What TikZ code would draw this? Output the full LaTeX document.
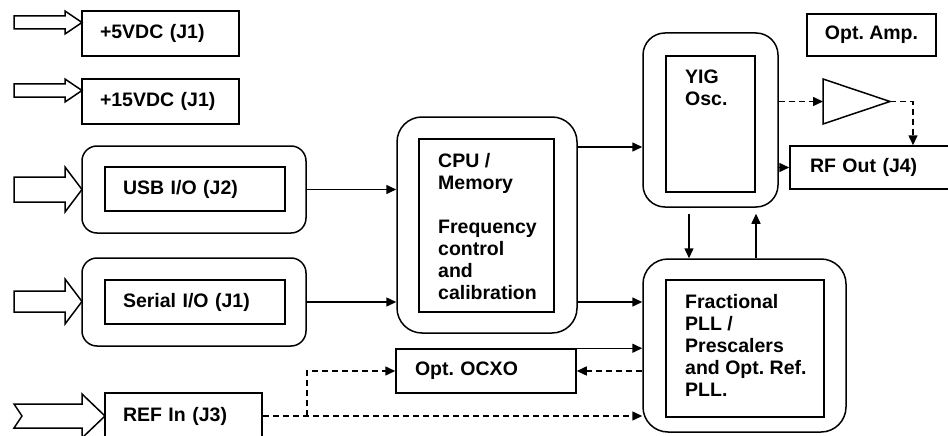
\documentclass[tikz,border=0pt]{standalone}
\usepackage{fontspec}
\setmainfont{Liberation Sans}
\usetikzlibrary{arrows.meta}
\begin{document}
\begin{tikzpicture}[x=1pt,y=-1pt,
  font=\fontsize{19.5}{22}\selectfont\bfseries\frenchspacing,
  lw/.style={line width=1.5pt},
  sbox/.style={draw, lw, rectangle, inner ysep=0pt, align=left},
  rbox/.style={draw, lw, rectangle, rounded corners=#1},
  arr/.style={lw, -{Triangle[length=10pt,width=9pt]}},
  dsh/.style={dash pattern=on 6pt off 4pt},
  barrow/.style={draw, lw, fill=white, line join=miter},
  txt/.style={anchor=north west, inner sep=0pt, align=left}]
\useasboundingbox (0,0) rectangle (948,436);

% block input arrows
\draw[barrow] (14,16) -- (65,16) -- (65,11) -- (82,22.5) -- (65,34) -- (65,29) -- (14,29) -- cycle;
\draw[barrow] (14,84) -- (65,84) -- (65,79) -- (82,90.5) -- (65,102) -- (65,97) -- (14,97) -- cycle;
\draw[barrow] (14,177) -- (65,177) -- (65,167) -- (82,189.5) -- (65,212) -- (65,202) -- (14,202) -- cycle;
\draw[barrow] (14,291) -- (65,291) -- (65,279) -- (82,301.5) -- (65,324) -- (65,312) -- (14,312) -- cycle;
\draw[barrow] (14,404) -- (82,404) -- (82,394) -- (105,416) -- (82,438) -- (82,428) -- (14,428) -- (22,416) -- cycle;

% left boxes
\node[sbox, minimum width=157pt, minimum height=45pt, text width=121pt, inner xsep=18pt] (p5) at (160.5,33.5) {+5VDC (J1)};
\node[sbox, minimum width=157pt, minimum height=45pt, text width=121pt, inner xsep=18pt] (p15) at (160.5,101.5) {+15VDC (J1)};
\node[rbox=15pt, minimum width=224pt, minimum height=87pt] (usbO) at (194,189.5) {};
\node[sbox, minimum width=180pt, minimum height=44pt, text width=144pt, inner xsep=18pt] (usbI) at (195,189) {USB I/O (J2)};
\node[rbox=15pt, minimum width=224pt, minimum height=88pt] (serO) at (194,302) {};
\node[sbox, minimum width=180pt, minimum height=44pt, text width=144pt, inner xsep=18pt] (serI) at (195,302) {Serial I/O (J1)};
\node[sbox, minimum width=157pt, minimum height=46pt, text width=121pt, inner xsep=18pt] (refIn) at (183.5,416) {REF In (J3)};

% CPU
\node[rbox=25pt, minimum width=180pt, minimum height=216pt] (cpuO) at (487,225) {};
\node[sbox, minimum width=135pt, minimum height=173pt] (cpuI) at (486.5,225.5) {};
\node[txt] (cpuT) at (438,153) {CPU /\\Memory\\[22pt]Frequency\\control\\and\\calibration};

% YIG
\node[rbox=22pt, minimum width=135pt, minimum height=174pt] (yigO) at (710.5,120) {};
\node[sbox, minimum width=89pt, minimum height=136pt] (yigI) at (710.5,124) {};
\node[txt] (yigT) at (685,70) {YIG\\Osc.};

% Amp
\node[sbox, minimum width=129pt, minimum height=42pt, align=center] (ampL) at (871.5,35) {Opt. Amp.};
\coordinate (ampIn) at (823,101.5);
\coordinate (ampOut) at (890,101.5);
\draw[lw] (823,79) -- (ampOut) -- (823,124) -- cycle;
\node[sbox, minimum width=146pt, minimum height=43pt, text width=126pt, inner xsep=20pt] (rfOut) at (873,167.5) {RF Out (J4)};

% PLL
\node[rbox=25pt, minimum width=203pt, minimum height=173pt] (pllO) at (744.5,345.5) {};
\node[sbox, minimum width=158pt, minimum height=137pt] (pllI) at (745,348.5) {};
\node[txt] (pllT) at (685,294) {Fractional\\PLL /\\Prescalers\\and Opt. Ref.\\PLL.};

% OCXO
\node[sbox, minimum width=180pt, minimum height=44pt, text width=142pt, inner xsep=19pt] (ocxo) at (486,371) {Opt. OCXO};

% connectors
\coordinate (c147) at (0,147);
\coordinate (xd) at (689,0);
\coordinate (xu) at (756,0);
\coordinate (xb) at (307,0);
\coordinate (ampTurn) at (913,101.5);
\draw[arr] (usbO.east) -- (usbO.east -| cpuO.west);
\draw[arr] (serO.east) -- (serO.east -| cpuO.west);
\draw[arr] (cpuO.east |- c147) -- (yigO.west |- c147);
\draw[arr] (cpuO.east |- serO.east) -- (pllO.west |- serO.east);
\draw[arr] (yigO.east |- rfOut.west) -- (rfOut.west);
\draw[arr, dsh] (yigO.east |- ampIn) -- (ampIn);
\draw[arr, dsh] (ampOut) -- (ampTurn) -- (ampTurn |- rfOut.north);
\draw[arr, shorten <=6pt] (xd |- yigO.south) -- (xd |- pllO.north);
\draw[arr, shorten >=6pt] (xu |- pllO.north) -- (xu |- yigO.south);
\draw[arr] (ocxo.north east) -- (pllO.west |- ocxo.north east);
\draw[arr, dsh] (pllO.west |- ocxo.east) -- (ocxo.east);
\draw[arr, dsh] (refIn.east) -- (pllO.west |- refIn.east);
\draw[arr, dsh] (xb |- refIn.east) -- (xb |- ocxo.west) -- (ocxo.west);
\end{tikzpicture}
\end{document}
